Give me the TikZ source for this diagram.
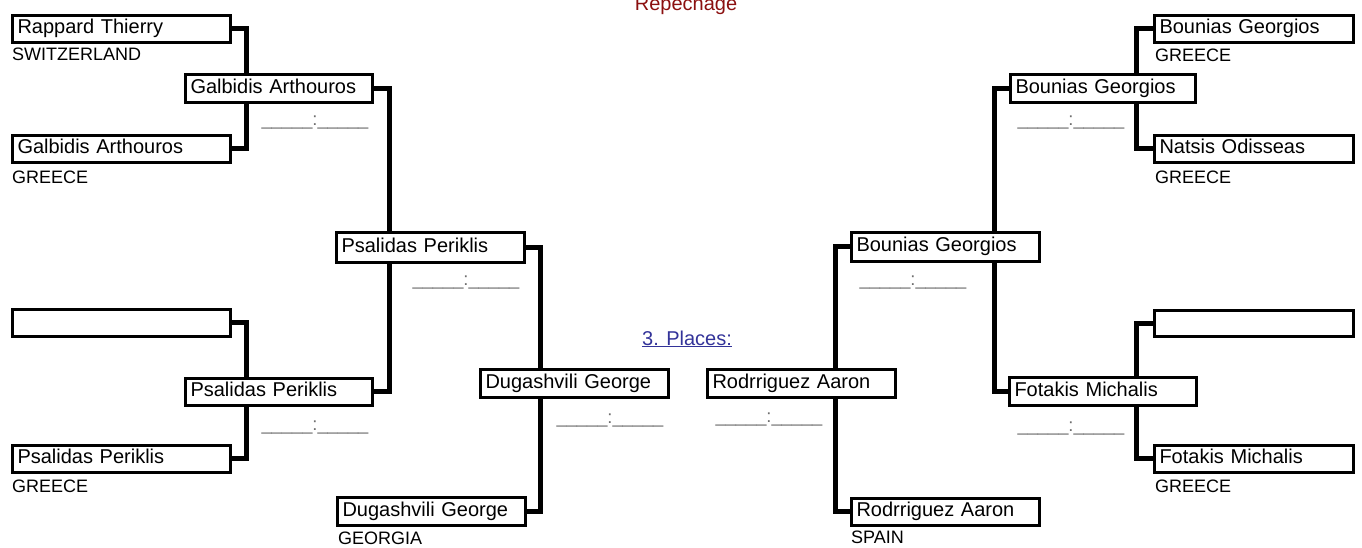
\documentclass[tikz,border=0pt]{standalone}
\usepackage{fontspec}
\setmainfont{Liberation Sans}
\definecolor{repred}{HTML}{8B1010}
\definecolor{placeblue}{HTML}{333399}
\definecolor{scoregray}{HTML}{6E6E6E}
\begin{document}
\begin{tikzpicture}[x=1pt,y=-1pt,
  box/.style={draw=black,line width=3pt,fill=white,anchor=north west,inner xsep=4pt,inner ysep=0pt,
    align=left,font=\fontsize{20}{22}\selectfont,text height=14.5pt,text depth=4pt},
  conn/.style={line width=5pt,line join=miter},
  country/.style={anchor=west,inner sep=0pt,font=\fontsize{18}{20}\selectfont},
  score/.style={inner sep=0pt,text=scoregray,font=\fontsize{18.3}{20}\selectfont}]
\useasboundingbox (0,0) rectangle (1362,547);
% boxes: name, x, y, width, height
\newcommand{\bx}[6]{\node[box,minimum width=#4pt,minimum height=#5pt,text width=#4pt-11pt] (#1) at (#2+1.5,#3+1.5) {#6};}
\bx{A1}{9}{12}{218}{27}{Rappard Thierry}
\bx{A2}{9}{132}{218}{27}{Galbidis Arthouros}
\bx{A3}{9}{306}{218}{27}{}
\bx{A4}{9}{442}{218}{27}{Psalidas Periklis}
\bx{B1}{182}{71}{187}{28}{Galbidis Arthouros}
\bx{B2}{182}{375}{187}{27}{Psalidas Periklis}
\bx{C1}{333}{229}{188}{30}{Psalidas Periklis}
\bx{E1}{477}{366}{188}{28}{Dugashvili George}
\bx{D1}{334}{494}{188}{28}{Dugashvili George}
\bx{C2}{848}{229}{188}{29}{Bounias Georgios}
\bx{E2}{704}{366}{188}{28}{Rodrriguez Aaron}
\bx{D2}{848}{495}{188}{27}{Rodrriguez Aaron}
\bx{B3}{1007}{71}{185}{28}{Bounias Georgios}
\bx{B4}{1006}{374}{187}{28}{Fotakis Michalis}
\bx{A5}{1151}{12}{199}{27}{Bounias Georgios}
\bx{A6}{1151}{132}{199}{27}{Natsis Odisseas}
\bx{A7}{1151}{307}{199}{26}{}
\bx{A8}{1151}{442}{199}{27}{Fotakis Michalis}
% connectors
\begin{scope}[conn]
\draw (A1.east) -| ([xshift=63pt]B1.north west);
\draw (A2.east) -| ([xshift=63pt]B1.south west);
\draw (A3.east) -| ([xshift=63pt]B2.north west);
\draw (A4.east) -| ([xshift=63pt]B2.south west);
\draw (B1.east) -| ([xshift=55pt]C1.north west);
\draw (B2.east) -| ([xshift=55pt]C1.south west);
\draw (C1.east) -| ([xshift=62pt]E1.north west);
\draw (D1.east) -| ([xshift=62pt]E1.south west);
\draw (A5.west) -| ([xshift=-60pt]B3.north east);
\draw (A6.west) -| ([xshift=-60pt]B3.south east);
\draw (A7.west) -| ([xshift=-61pt]B4.north east);
\draw (A8.west) -| ([xshift=-61pt]B4.south east);
\draw (B3.west) -| ([xshift=-46pt]C2.north east);
\draw (B4.west) -| ([xshift=-46pt]C2.south east);
\draw (C2.west) -| ([xshift=-61pt]E2.north east);
\draw (D2.west) -| ([xshift=-61pt]E2.south east);
\end{scope}
% countries
\node[country] (c1) at (12,54) {SWITZERLAND};
\node[country] (c2) at (12,177) {GREECE};
\node[country] (c3) at (12,486) {GREECE};
\node[country] (c4) at (338,538.5) {GEORGIA};
\node[country] (c5) at (851,537.5) {SPAIN};
\node[country] (c6) at (1155,55) {GREECE};
\node[country] (c7) at (1155,177) {GREECE};
\node[country] (c8) at (1155,486) {GREECE};
% scores
\newcommand{\scoretxt}{\_\_\_\_\_:\_\_\_\_\_}
\node[score,anchor=base] (s1) at (315,125) {\scoretxt};
\node[score,anchor=base] (s2) at (315,430) {\scoretxt};
\node[score,anchor=base] (s3) at (466,285) {\scoretxt};
\node[score,anchor=base] (s4) at (610,423) {\scoretxt};
\node[score,anchor=base] (s5) at (769,422) {\scoretxt};
\node[score,anchor=base] (s6) at (913,285) {\scoretxt};
\node[score,anchor=base] (s7) at (1071,125) {\scoretxt};
\node[score,anchor=base] (s8) at (1071,431) {\scoretxt};
% titles
\node[anchor=base,inner sep=0pt,text=repred,font=\fontsize{20}{22}\selectfont] (rep) at (686,10) {Repechage};
\node[anchor=base,inner sep=0pt,text=placeblue,font=\fontsize{20}{22}\selectfont] (pl) at (687,345) {\underline{3. Places:}};
\end{tikzpicture}
\end{document}
